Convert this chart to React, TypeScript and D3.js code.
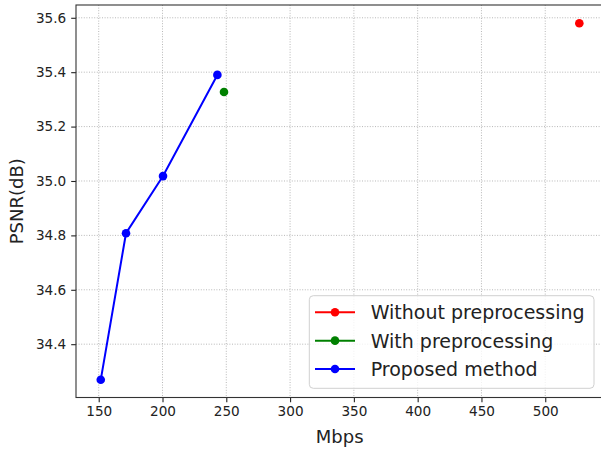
import React, { useEffect, useRef } from 'react';
import * as d3 from 'd3';

// values
const seriesNames = ['Without preprocessing', 'With preprocessing', 'Proposed method'];
const seriesColors = ['red', 'green', 'blue'];
const withoutMbps = [526.7];
const withoutPsnr = [35.58];
const withMbps = [248.2];
const withPsnr = [35.327];
const proposedMbps = [151.6, 171.4, 200.4, 243.0];
const proposedPsnr = [34.269, 34.808, 35.018, 35.39];
const xTicks = [150, 200, 250, 300, 350, 400, 450, 500];
const yTicks = [34.4, 34.6, 34.8, 35.0, 35.2, 35.4, 35.6];

const W = 601;
const H = 452;
const FONT = '"DejaVu Sans", sans-serif';

const Chart = () => {
    const ref = useRef<SVGSVGElement>(null);

    useEffect(() => {
        const svg = d3.select(ref.current);
        svg.selectAll('*').remove();

        const left = 76, right = 603.3, top = 5, bottom = 397.5;

        const x = d3.scaleLinear().domain([132.2, 545.5]).range([left, right]);
        const y = d3.scaleLinear().domain([34.204, 35.647]).range([bottom, top]);

        // grid
        const grid = svg.append('g')
            .attr('stroke', '#b0b0b0')
            .attr('stroke-width', 0.9)
            .attr('stroke-dasharray', '1,1.6');
        grid.selectAll('.gx').data(xTicks).enter().append('line')
            .attr('x1', d => x(d)).attr('x2', d => x(d))
            .attr('y1', top).attr('y2', bottom);
        grid.selectAll('.gy').data(yTicks).enter().append('line')
            .attr('x1', left).attr('x2', right)
            .attr('y1', d => y(d)).attr('y2', d => y(d));

        // axes
        const xAxis = svg.append('g')
            .attr('transform', `translate(0,${bottom})`)
            .call(d3.axisBottom(x).tickValues(xTicks).tickFormat(d3.format('d')).tickSize(4.8).tickPadding(4));
        const yAxis = svg.append('g')
            .attr('transform', `translate(${left},0)`)
            .call(d3.axisLeft(y).tickValues(yTicks).tickFormat(d3.format('.1f')).tickSize(4.8).tickPadding(5));
        [xAxis, yAxis].forEach(a => {
            a.select('.domain').remove();
            a.selectAll('line').attr('stroke', '#222').attr('stroke-width', 1.1);
            a.selectAll('text')
                .attr('font-family', FONT)
                .attr('font-size', 13.6)
                .attr('fill', '#222');
        });

        // series
        const series = [
            { mbps: withoutMbps, psnr: withoutPsnr },
            { mbps: withMbps, psnr: withPsnr },
            { mbps: proposedMbps, psnr: proposedPsnr },
        ];
        const line = d3.line<number>()
            .x((d, i, arr) => x(d))
            .y(() => 0);
        series.forEach((s, k) => {
            const pts = s.mbps.map((m, i) => [x(m), y(s.psnr[i])] as [number, number]);
            svg.append('path')
                .attr('d', d3.line()(pts))
                .attr('fill', 'none')
                .attr('stroke', seriesColors[k])
                .attr('stroke-width', 2);
            svg.selectAll(`.dot${k}`).data(pts).enter().append('circle')
                .attr('cx', d => d[0]).attr('cy', d => d[1])
                .attr('r', 4.3)
                .attr('fill', seriesColors[k]);
        });
        void line;

        // frame
        svg.append('rect')
            .attr('x', left).attr('y', top)
            .attr('width', right - left).attr('height', bottom - top)
            .attr('fill', 'none')
            .attr('stroke', '#333')
            .attr('stroke-width', 1.1);

        // axis labels
        svg.append('text')
            .attr('x', (left + right) / 2).attr('y', 443)
            .attr('text-anchor', 'middle')
            .attr('font-family', FONT).attr('font-size', 18).attr('fill', '#222')
            .text('Mbps');
        svg.append('text')
            .attr('transform', `translate(23,${(top + bottom) / 2}) rotate(-90)`)
            .attr('text-anchor', 'middle')
            .attr('font-family', FONT).attr('font-size', 18).attr('fill', '#222')
            .text('PSNR(dB)');

        // legend
        const lg = svg.append('g');
        lg.append('rect')
            .attr('x', 309.3).attr('y', 295.7)
            .attr('width', 284.7).attr('height', 92.6)
            .attr('rx', 4)
            .attr('fill', 'white').attr('fill-opacity', 0.8)
            .attr('stroke', '#d0d0d0').attr('stroke-width', 1);
        const rowY = d3.scaleLinear().domain([0, 2]).range([312.3, 369]);
        seriesNames.forEach((name, i) => {
            const cy = rowY(i);
            lg.append('line')
                .attr('x1', 315).attr('x2', 355)
                .attr('y1', cy).attr('y2', cy)
                .attr('stroke', seriesColors[i]).attr('stroke-width', 2);
            lg.append('circle')
                .attr('cx', 335).attr('cy', cy).attr('r', 4.3)
                .attr('fill', seriesColors[i]);
            lg.append('text')
                .attr('x', 370.7).attr('y', cy + 7)
                .attr('font-family', FONT).attr('font-size', 19).attr('fill', '#222')
                .text(name);
        });
    }, []);

    return <svg ref={ref} width={W} height={H} style={{ display: 'block', overflow: 'hidden' }} />;
};

export default function App() {
    return (
        <div style={{ position: 'fixed', left: 0, top: 0, width: W, height: H, background: 'white' }}>
            <Chart />
        </div>
    );
}
